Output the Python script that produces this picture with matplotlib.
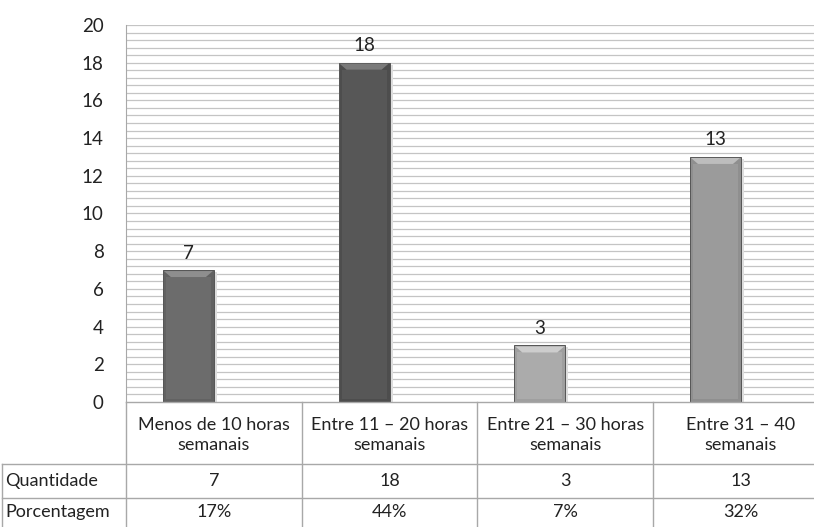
import matplotlib
matplotlib.use('Agg')
import matplotlib.pyplot as plt
from matplotlib.patches import Polygon
import numpy as np

categories = ['Menos de 10 horas\nsemanais', 'Entre 11 – 20 horas\nsemanais',
              'Entre 21 – 30 horas\nsemanais', 'Entre 31 – 40\nsemanais']
quantidade = [7, 18, 3, 13]
porcentagem = ['17%', '44%', '7%', '32%']
row_names = ['Quantidade', 'Porcentagem']

# body / bevel shades for each bar
body_colors = ['#6c6c6c', '#575757', '#ababab', '#9b9b9b']
top_colors = ['#8e8e8e', '#7a7a7a', '#cdcdcd', '#bdbdbd']
side_colors = ['#626262', '#4d4d4d', '#9f9f9f', '#8f8f8f']

plt.rcParams['font.family'] = ['Lato', 'DejaVu Sans']

W, H = 814, 527
fig = plt.figure(figsize=(W / 100, H / 100), dpi=100)
fig.patch.set_facecolor('white')

cat_w = 175.7
left_px, top_px, base_px = 126, 25, 402
ax = fig.add_axes([left_px / W, (H - base_px) / H, 4 * cat_w / W, (base_px - top_px) / H])
ax.set_xlim(0, 4)
ax.set_ylim(0, 20)

# dense horizontal grid
for g in np.arange(0.4, 20.01, 0.4):
    ax.axhline(g, color='#c4c4c4', lw=0.9, zorder=0)

for s in ['right', 'bottom', 'top']:
    ax.spines[s].set_visible(False)
ax.spines['left'].set_color('#a8a8a8')
ax.set_xticks([])
ax.set_yticks(range(0, 21, 2))
ax.tick_params(axis='y', length=0, pad=16, labelsize=13.5, labelcolor='#222222')

bar_w = 0.29
px_y = 20 / (base_px - top_px)
px_x = 1 / cat_w
for i, v in enumerate(quantidade):
    x0 = i + 0.5 - bar_w
    x1 = i + 0.5
    # soft shadow on the right side
    ax.add_patch(Polygon([(x1, 0), (x1 + 3 * px_x, 0), (x1 + 3 * px_x, v - 2 * px_y), (x1, v - 2 * px_y)],
                         closed=True, facecolor='#dddddd', edgecolor='none', zorder=2))
    ax.add_patch(Polygon([(x0, 0), (x1, 0), (x1, v), (x0, v)], closed=True,
                         facecolor=side_colors[i], edgecolor='#555555', lw=0.7, zorder=3))
    ax.add_patch(Polygon([(x0 + 3 * px_x, 3 * px_y), (x1 - 3 * px_x, 3 * px_y),
                          (x1 - 3 * px_x, v - 7 * px_y), (x0 + 3 * px_x, v - 7 * px_y)],
                         closed=True, facecolor=body_colors[i], edgecolor='none', zorder=4))
    ax.add_patch(Polygon([(x0 + px_x, v - px_y), (x1 - px_x, v - px_y),
                          (x1 - 8 * px_x, v - 7 * px_y), (x0 + 8 * px_x, v - 7 * px_y)],
                         closed=True, facecolor=top_colors[i], edgecolor='none', zorder=4))
    ax.text((x0 + x1) / 2, v + 0.45, str(v), ha='center', va='bottom',
            fontsize=13.5, color='#222222', zorder=5)

# data table under the chart
tab = fig.add_axes([left_px / W, 0, 4 * cat_w / W, (H - base_px) / H])
tab.set_xlim(0, 4)
tab.set_ylim(H, base_px)
tab.axis('off')
lc = '#a8a8a8'
x_edge = -(left_px - 2) / cat_w
tab.plot([0, 4], [base_px, base_px], color=lc, lw=1, clip_on=False)
for yy in [464, 498]:
    tab.plot([x_edge, 4], [yy, yy], color=lc, lw=1, clip_on=False)
tab.plot([x_edge, x_edge], [464, H], color=lc, lw=1, clip_on=False)
for k in range(5):
    tab.plot([k, k], [base_px, H], color=lc, lw=1, clip_on=False)

for i, c in enumerate(categories):
    tab.text(i + 0.5, 435, c, ha='center', va='center', fontsize=13,
             linespacing=1.25, color='#222222', clip_on=False)
    tab.text(i + 0.5, 481, str(quantidade[i]), ha='center', va='center',
             fontsize=13, color='#222222', clip_on=False)
    tab.text(i + 0.5, 512, porcentagem[i], ha='center', va='center',
             fontsize=13, color='#222222', clip_on=False)
for name, yy in zip(row_names, [481, 512]):
    tab.text(x_edge + 3 / cat_w, yy, name, ha='left', va='center',
             fontsize=13, color='#222222', clip_on=False)

fig.savefig('out.png', dpi=100)
